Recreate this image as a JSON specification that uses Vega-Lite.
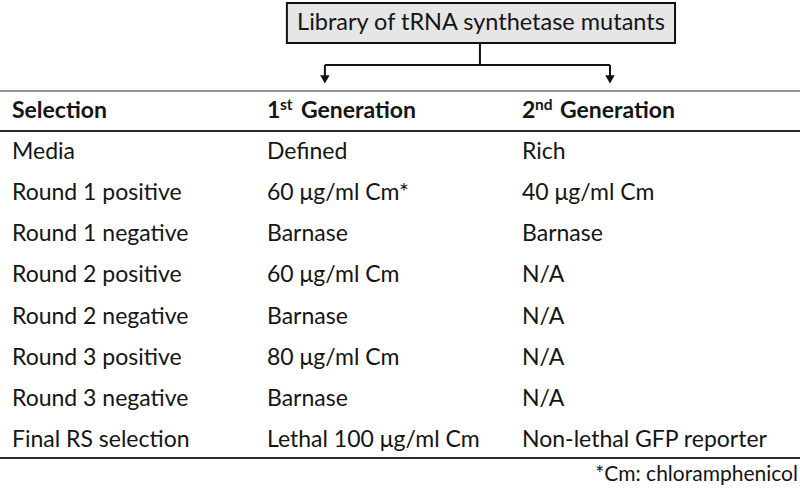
{
  "$schema": "https://vega.github.io/schema/vega-lite/v6.json",
  "width": 800,
  "height": 489,
  "padding": 0,
  "autosize": {"type": "none"},
  "background": "white",
  "config": {"view": {"stroke": null}, "text": {"font": "Lato", "color": "#151515"}},
  "datasets": {
    "cells": [
      {"row": 1, "col": 0, "text": "Media"},
      {"row": 1, "col": 1, "text": "Defined"},
      {"row": 1, "col": 2, "text": "Rich"},
      {"row": 2, "col": 0, "text": "Round 1 positive"},
      {"row": 2, "col": 1, "text": "60 μg/ml Cm*"},
      {"row": 2, "col": 2, "text": "40 μg/ml Cm"},
      {"row": 3, "col": 0, "text": "Round 1 negative"},
      {"row": 3, "col": 1, "text": "Barnase"},
      {"row": 3, "col": 2, "text": "Barnase"},
      {"row": 4, "col": 0, "text": "Round 2 positive"},
      {"row": 4, "col": 1, "text": "60 μg/ml Cm"},
      {"row": 4, "col": 2, "text": "N/A"},
      {"row": 5, "col": 0, "text": "Round 2 negative"},
      {"row": 5, "col": 1, "text": "Barnase"},
      {"row": 5, "col": 2, "text": "N/A"},
      {"row": 6, "col": 0, "text": "Round 3 positive"},
      {"row": 6, "col": 1, "text": "80 μg/ml Cm"},
      {"row": 6, "col": 2, "text": "N/A"},
      {"row": 7, "col": 0, "text": "Round 3 negative"},
      {"row": 7, "col": 1, "text": "Barnase"},
      {"row": 7, "col": 2, "text": "N/A"},
      {"row": 8, "col": 0, "text": "Final RS selection"},
      {"row": 8, "col": 1, "text": "Lethal 100 μg/ml Cm"},
      {"row": 8, "col": 2, "text": "Non-lethal GFP reporter"}
    ],
    "head": [
      {"row": 0, "col": 0, "text": "Selection"},
      {"row": 0, "col": 1, "text": "1"},
      {"row": 0, "col": 2, "text": "2"}
    ],
    "sup": [
      {"row": 0, "col": 1, "text": "st"},
      {"row": 0, "col": 2, "text": "nd"}
    ],
    "gen": [
      {"row": 0, "col": 1, "text": "Generation"},
      {"row": 0, "col": 2, "text": "Generation"}
    ],
    "hlines": [
      {"row": -0.487, "c0": -0.047, "c1": 3.09, "kind": "top"},
      {"row": 0.487, "c0": -0.047, "c1": 3.09, "kind": "mid"},
      {"row": 8.443, "c0": -0.047, "c1": 3.09, "kind": "bottom"}
    ],
    "box": [
      {"c0": 1.078, "c1": 2.6, "r0": -2.628, "r1": -1.655, "cm": 1.839, "rm": -2.141, "text": "Library of tRNA synthetase mutants"}
    ],
    "vlinks": [
      {"col": 1.835, "r0": -1.655, "r1": -1.119},
      {"col": 1.227, "r0": -1.119, "r1": -0.78},
      {"col": 2.345, "r0": -1.119, "r1": -0.78}
    ],
    "hlinks": [
      {"row": -1.119, "c0": 1.227, "c1": 2.345}
    ],
    "arrows": [
      {"col": 1.227, "row": -0.77},
      {"col": 2.345, "row": -0.77}
    ],
    "note": [
      {"col": 3.082, "row": 8.856, "text": "*Cm: chloramphenicol"}
    ]
  },
  "layer": [
    {
      "data": {"name": "box"},
      "mark": {"type": "rect", "fill": "#e6e6e6", "stroke": "#111111", "strokeWidth": 2},
      "encoding": {
        "x": {"field": "c0", "type": "quantitative", "scale": {"domain": [-0.047, 3.09], "nice": false, "zero": false}, "axis": null},
        "x2": {"field": "c1"},
        "y": {"field": "r0", "type": "quantitative", "scale": {"domain": [-2.701, 9.197], "reverse": true, "nice": false, "zero": false}, "axis": null},
        "y2": {"field": "r1"}
      }
    },
    {
      "data": {"name": "box"},
      "mark": {"type": "text", "fontSize": 23.5, "align": "center", "baseline": "middle"},
      "encoding": {
        "x": {"field": "cm", "type": "quantitative"},
        "y": {"field": "rm", "type": "quantitative"},
        "text": {"field": "text"}
      }
    },
    {
      "data": {"name": "vlinks"},
      "mark": {"type": "rule", "stroke": "#111111", "strokeWidth": 2},
      "encoding": {
        "x": {"field": "col", "type": "quantitative"},
        "y": {"field": "r0", "type": "quantitative"},
        "y2": {"field": "r1"}
      }
    },
    {
      "data": {"name": "hlinks"},
      "mark": {"type": "rule", "stroke": "#111111", "strokeWidth": 2},
      "encoding": {
        "x": {"field": "c0", "type": "quantitative"},
        "x2": {"field": "c1"},
        "y": {"field": "row", "type": "quantitative"}
      }
    },
    {
      "data": {"name": "arrows"},
      "mark": {"type": "point", "shape": "triangle-down", "filled": true, "color": "#111111", "size": 90, "opacity": 1},
      "encoding": {
        "x": {"field": "col", "type": "quantitative"},
        "y": {"field": "row", "type": "quantitative"}
      }
    },
    {
      "data": {"name": "hlines"},
      "transform": [{"filter": "datum.kind === 'top'"}],
      "mark": {"type": "rule", "stroke": "#707070", "strokeWidth": 1.5},
      "encoding": {
        "x": {"field": "c0", "type": "quantitative"},
        "x2": {"field": "c1"},
        "y": {"field": "row", "type": "quantitative"}
      }
    },
    {
      "data": {"name": "hlines"},
      "transform": [{"filter": "datum.kind !== 'top'"}],
      "mark": {"type": "rule", "stroke": "#2a2a2a", "strokeWidth": 2},
      "encoding": {
        "x": {"field": "c0", "type": "quantitative"},
        "x2": {"field": "c1"},
        "y": {"field": "row", "type": "quantitative"}
      }
    },
    {
      "data": {"name": "head"},
      "mark": {"type": "text", "fontSize": 23, "fontWeight": "bold", "align": "left", "baseline": "middle"},
      "encoding": {
        "x": {"field": "col", "type": "quantitative"},
        "y": {"field": "row", "type": "quantitative"},
        "text": {"field": "text"}
      }
    },
    {
      "data": {"name": "sup"},
      "mark": {"type": "text", "fontSize": 15.5, "fontWeight": "bold", "align": "left", "baseline": "middle", "dx": 13, "dy": -6},
      "encoding": {
        "x": {"field": "col", "type": "quantitative"},
        "y": {"field": "row", "type": "quantitative"},
        "text": {"field": "text"}
      }
    },
    {
      "data": {"name": "gen"},
      "transform": [{"filter": "datum.col === 1"}],
      "mark": {"type": "text", "fontSize": 23, "fontWeight": "bold", "align": "left", "baseline": "middle", "dx": 34},
      "encoding": {
        "x": {"field": "col", "type": "quantitative"},
        "y": {"field": "row", "type": "quantitative"},
        "text": {"field": "text"}
      }
    },
    {
      "data": {"name": "gen"},
      "transform": [{"filter": "datum.col === 2"}],
      "mark": {"type": "text", "fontSize": 23, "fontWeight": "bold", "align": "left", "baseline": "middle", "dx": 38},
      "encoding": {
        "x": {"field": "col", "type": "quantitative"},
        "y": {"field": "row", "type": "quantitative"},
        "text": {"field": "text"}
      }
    },
    {
      "data": {"name": "cells"},
      "mark": {"type": "text", "fontSize": 23, "align": "left", "baseline": "middle"},
      "encoding": {
        "x": {"field": "col", "type": "quantitative"},
        "y": {"field": "row", "type": "quantitative"},
        "text": {"field": "text"}
      }
    },
    {
      "data": {"name": "note"},
      "mark": {"type": "text", "fontSize": 21, "align": "right", "baseline": "middle"},
      "encoding": {
        "x": {"field": "col", "type": "quantitative"},
        "y": {"field": "row", "type": "quantitative"},
        "text": {"field": "text"}
      }
    }
  ]
}
